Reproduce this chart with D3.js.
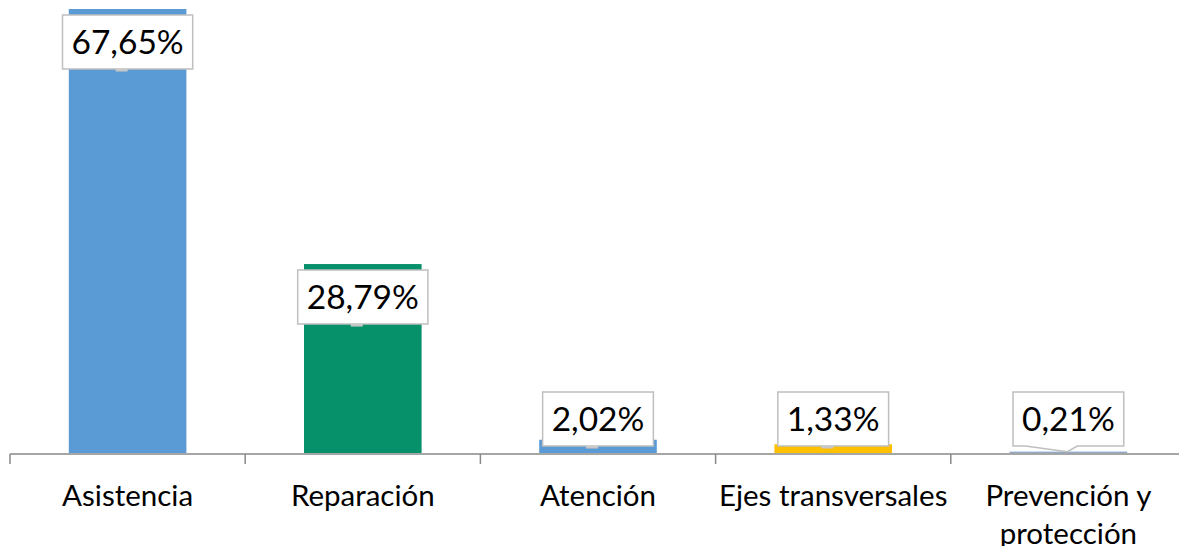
<!DOCTYPE html>
<html>
<head>
<meta charset="utf-8">
<script src="https://cdn.jsdelivr.net/npm/d3@7"></script>
<style>
  html, body { margin: 0; padding: 0; background: #fff; }
  svg { display: block; font-family: Lato, "Open Sans", sans-serif; }
</style>
</head>
<body>
<svg id="chart"></svg>
<script>
var categories = ['Asistencia', 'Reparación', 'Atención', 'Ejes transversales', 'Prevención y protección'];
var tickLabels = [['Asistencia'], ['Reparación'], ['Atención'], ['Ejes transversales'], ['Prevención y', 'protección']];
var values = [67.65, 28.79, 2.02, 1.33, 0.21];
var valueLabels = ['67,65%', '28,79%', '2,02%', '1,33%', '0,21%'];
var colors = ['#5B9BD5', '#07916A', '#5B9BD5', '#FFC000', '#8FA9C8'];

var width = 1179;
var height = 546;
var baseline = 454;

var chart = d3.select('#chart')
    .attr('width', width)
    .attr('height', height);

// band scale: ticks every ~235px starting at x=10
var x = d3.scaleBand()
    .domain(categories)
    .range([10, 1186])
    .paddingInner(0.5)
    .paddingOuter(0.25);

var y = d3.scaleLinear()
    .domain([0, 67.65])
    .range([baseline - 1, 9]);

var step = x.step();

// bars
chart.selectAll('rect.bar')
    .data(values)
    .enter().append('rect')
    .attr('class', 'bar')
    .attr('x', function (d, i) { return x(categories[i]); })
    .attr('y', function (d) { return y(d); })
    .attr('width', x.bandwidth())
    .attr('height', function (d) { return Math.max(1.5, y(0) - y(d)); })
    .attr('fill', function (d, i) { return colors[i]; });

// axis line and ticks
chart.append('line')
    .attr('x1', 10).attr('x2', 1186)
    .attr('y1', baseline).attr('y2', baseline)
    .attr('stroke', '#898989').attr('stroke-width', 1.5);

var tickPos = categories.map(function (c) { return x(c) - step * 0.25; });
tickPos.push(1186);
chart.selectAll('line.tick')
    .data(tickPos)
    .enter().append('line')
    .attr('class', 'tick')
    .attr('x1', function (d) { return d; }).attr('x2', function (d) { return d; })
    .attr('y1', baseline).attr('y2', baseline + 10)
    .attr('stroke', '#898989').attr('stroke-width', 1.5);

// category labels
var lab = chart.selectAll('text.cat')
    .data(tickLabels)
    .enter().append('text')
    .attr('class', 'cat')
    .attr('x', function (d, i) { return x(categories[i]) + x.bandwidth() / 2; })
    .attr('y', 506)
    .attr('text-anchor', 'middle')
    .attr('font-size', 29.5)
    .attr('fill', '#000');
lab.each(function (lines) {
    var t = d3.select(this);
    lines.forEach(function (l, k) {
        t.append('tspan')
            .attr('x', t.attr('x'))
            .attr('dy', k === 0 ? 0 : 38)
            .text(l);
    });
});

// data labels in callout boxes
var boxH = 54;
var g = chart.selectAll('g.lbl')
    .data(values)
    .enter().append('g')
    .attr('class', 'lbl');

g.each(function (d, i) {
    var grp = d3.select(this);
    var cx = x(categories[i]) + x.bandwidth() / 2;
    var top = Math.min(y(d) + 6, baseline - 8 - boxH);
    var bottom = top + boxH;

    var txt = grp.append('text')
        .attr('x', cx)
        .attr('y', top + boxH / 2 + 12)
        .attr('text-anchor', 'middle')
        .attr('font-size', 33.5)
        .attr('fill', '#000')
        .text(valueLabels[i]);
    var w = txt.node().getComputedTextLength() + 18;
    var left = cx - w / 2, right = cx + w / 2;
    var hasPointer = y(d) - bottom > 4;
    var path;
    if (hasPointer) {
        path = 'M' + left + ',' + top +
            'L' + right + ',' + top +
            'L' + right + ',' + bottom +
            'L' + (cx + 9) + ',' + bottom +
            'L' + (cx - 1) + ',' + y(d) +
            'L' + (cx - 43) + ',' + bottom +
            'L' + left + ',' + bottom + 'Z';
    } else {
        path = 'M' + left + ',' + top +
            'L' + right + ',' + top +
            'L' + right + ',' + bottom +
            'L' + left + ',' + bottom + 'Z';
    }
    grp.insert('path', 'text')
        .attr('d', path)
        .attr('fill', '#fff')
        .attr('stroke', '#BFBFBF')
        .attr('stroke-width', 1.5);
    if (!hasPointer) {
        // small pointer stub under the box
        grp.append('rect')
            .attr('x', cx - 12).attr('y', bottom)
            .attr('width', 12).attr('height', 2.5)
            .attr('fill', '#C8C8C8');
    }
});
</script>
</body>
</html>
